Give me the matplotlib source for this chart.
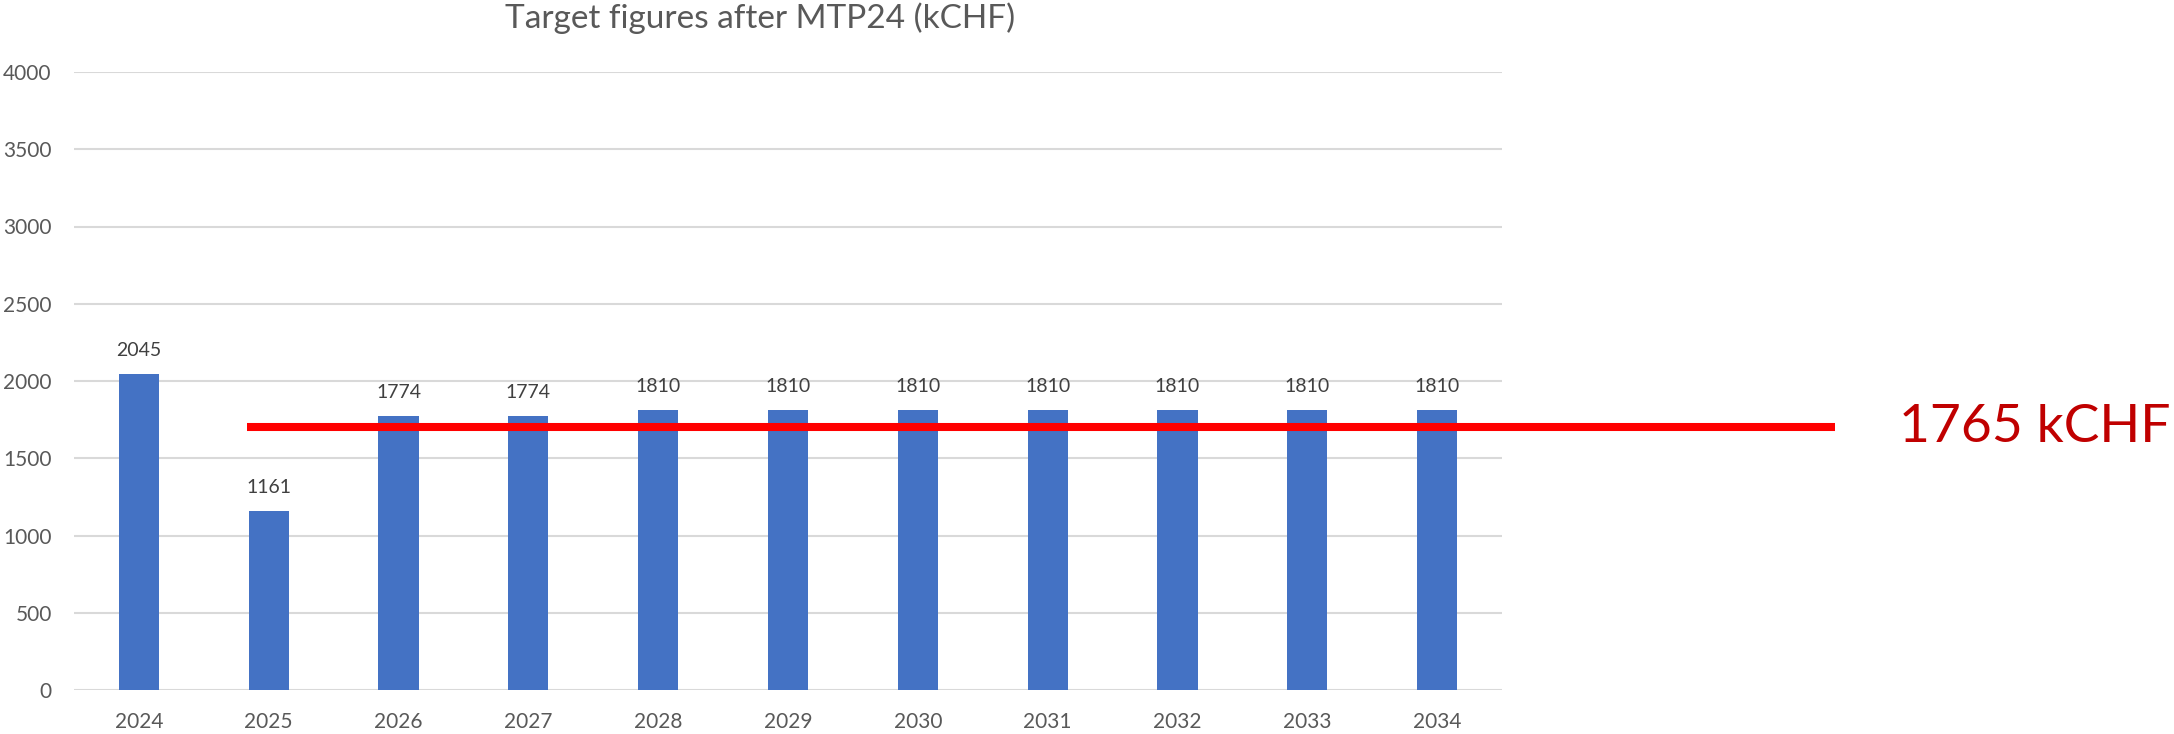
import matplotlib
matplotlib.use("Agg")
import matplotlib.pyplot as plt

years = ["2024", "2025", "2026", "2027", "2028", "2029", "2030", "2031", "2032", "2033", "2034"]
values = [2045, 1161, 1774, 1774, 1810, 1810, 1810, 1810, 1810, 1810, 1810]
target_value = 1702
target_label = "1765 kCHF"
title = "Target figures after MTP24 (kCHF)"
yticks = [0, 500, 1000, 1500, 2000, 2500, 3000, 3500, 4000]

plt.rcParams['font.family'] = ['Lato', 'DejaVu Sans']

W, H = 2174, 734
fig = plt.figure(figsize=(W / 100, H / 100), dpi=100)
ax = fig.add_axes([74 / W, 1 - 690 / H, (1502 - 74) / W, (690 - 72) / H])

x = list(range(len(years)))
ax.bar(x, values, width=0.31, color="#4472C4", zorder=3)
ax.set_xlim(-0.5, len(years) - 0.5)
ax.set_ylim(0, 4000)
ax.set_yticks(yticks)
ax.set_yticklabels([str(v) for v in yticks])
ax.set_xticks(x)
ax.set_xticklabels(years)
ax.tick_params(axis="y", length=0, pad=16, labelsize=15, labelcolor="#595959")
ax.tick_params(axis="x", length=0, pad=16, labelsize=15, labelcolor="#595959")
for s in ax.spines.values():
    s.set_visible(False)
ax.grid(axis="y", color="#D9D9D9", linewidth=1.5, zorder=0)
ax.set_axisbelow(True)

for xi, v in zip(x, values):
    ax.annotate(str(v), (xi, v), xytext=(0, 13), textcoords="offset points",
                ha="center", va="baseline", fontsize=14, color="#404040")

# target line extending beyond the axes
ax.plot([0.833, 13.065], [target_value, target_value], color="#FF0000",
        linewidth=5.8, solid_capstyle="butt", clip_on=False, zorder=5)

fig.text(1899 / W, 1 - 427 / H, target_label, ha="left", va="center",
         fontsize=38.5, color="#C00000")

fig.text(760 / W, 1 - 28 / H, title, ha="center", va="baseline",
         fontsize=24, color="#595959")

fig.savefig("out.png", dpi=100)
